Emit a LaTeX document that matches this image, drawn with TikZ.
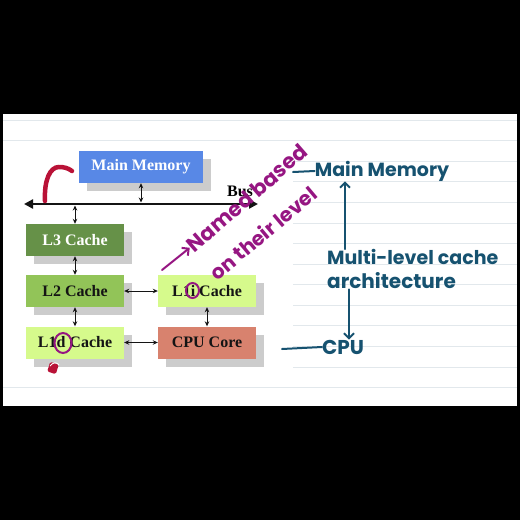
\documentclass[tikz,border=0pt]{standalone}
\usepackage{fontspec}
\setmainfont{Liberation Serif}
\newfontfamily\handfont{Poppins}
\usepackage{tikz}
\usetikzlibrary{arrows.meta,calc,shadows}
\usepackage{xcolor}
\definecolor{memblue}{RGB}{88,136,230}
\definecolor{lthree}{RGB}{102,145,72}
\definecolor{ltwo}{RGB}{146,196,88}
\definecolor{lone}{RGB}{214,250,140}
\definecolor{corered}{RGB}{216,130,110}
\definecolor{shade}{RGB}{204,204,204}
\definecolor{ruleline}{RGB}{226,232,236}
\definecolor{ink}{RGB}{20,20,20}
\definecolor{penblue}{RGB}{22,82,112}
\definecolor{penpurple}{RGB}{150,22,130}
\definecolor{penred}{RGB}{185,18,55}
\newcommand{\paperrule}[2]{% x-start y
  \draw[ruleline,line width=0.8pt] (#1,#2) -- (517,#2);
}
\tikzset{
  cachebox/.style={minimum width=98pt,minimum height=32pt,inner sep=0pt,
    font=\bfseries\fontsize{16}{18}\selectfont,text=ink,
    drop shadow={shadow xshift=8pt,shadow yshift=-8pt,fill=shade,opacity=1}},
  link/.style={ink,line width=0.8pt,{Stealth[length=5pt,width=4.5pt]}-{Stealth[length=5pt,width=4.5pt]}},
  hand/.style={font=\handfont\bfseries\fontsize{#1}{#1}\selectfont,inner sep=0pt},
  penline/.style={line width=2pt,line cap=round}
}

\begin{document}
\begin{tikzpicture}[x=1pt,y=-1pt]
  \fill[black] (0,0) rectangle (520,520);
  \fill[white] (3,114) rectangle (517,406);
  \foreach \k in {0,...,13}{
    \pgfmathsetmacro{\ry}{120+20.58*\k}
    \ifnum\k<2 \paperrule{3}{\ry}\else\ifnum\k=13 \paperrule{3}{\ry}\else\paperrule{293}{\ry}\fi\fi
  }

  % slide diagram
  \node[cachebox,fill=memblue,text=white,minimum width=124pt] (mem) at (141,167){Main Memory};
  \node[cachebox,fill=lthree,text=white] (l3) at (75,240){L3 Cache};
  \node[cachebox,fill=ltwo] (l2) at (75,291){L2 Cache};
  \node[cachebox,fill=lone] (l1d) at (75,342.5){L1d Cache};
  \node[cachebox,fill=lone] (l1i) at (207,291){L1i Cache};
  \node[cachebox,fill=corered] (cpu) at (207,342.5){CPU Core};
  \coordinate (busL) at (24,204);
  \coordinate (busR) at (258,204);
  \node[font=\bfseries\fontsize{16}{18}\selectfont,inner sep=0pt] (buslbl) at (240,191){Bus};
  \draw[ink,line width=2.6pt,{Triangle[length=9pt,width=9pt]}-{Triangle[length=9pt,width=9pt]}] (busL) -- (busR);
  \draw[link] (mem.south) -- ([yshift=1.5pt]mem.south |- busL);
  \draw[link] ([yshift=-1.5pt]l3.north |- busL) -- (l3.north);
  \draw[link] (l3) -- (l2);
  \draw[link] (l2) -- (l1d);
  \draw[link] (l2) -- (l1i);
  \draw[link] (l1d) -- (cpu);
  \draw[link] (l1i) -- (cpu);

  % purple notes
  \node[hand=21,text=penpurple,rotate=41] (named) at (247,198){Named based};
  \node[hand=20,text=penpurple,rotate=40] (level) at (263,233){on their level};
  \coordinate (tail) at (162,270);
  \draw[penpurple,penline,-{Straight Barb[length=5pt]}] (tail) -- (named.west);
  \draw[penpurple,penline] (192.5,290.5) ellipse [x radius=6.5pt,y radius=7.5pt];
  \draw[penpurple,penline] (63,343) ellipse [x radius=8.5pt,y radius=10pt];

  % red marks
  \draw[penred,line width=4.5pt,line cap=round] (45,201) .. controls (44,180) and (50,167) .. (59,167) .. controls (64,167) and (68,168) .. (72,171);
  \fill[penred,rounded corners=1.5pt,rotate around={-18:(53,368)}] (48.5,363) rectangle (57.5,373);
  \draw[white,line width=0.9pt] (50,366) .. controls (53,362) and (57,362) .. (59,365);

  % blue notes
  \node[hand=19,text=penblue] (blmem) at (382,171){Main Memory};
  \node[hand=19,text=penblue,anchor=west] (multi) at (327,257){Multi-level cache};
  \node[hand=20,text=penblue,anchor=west] (arch) at (327,281){architecture};
  \node[hand=20,text=penblue,anchor=west] (blcpu) at (322,347){CPU};
  \coordinate (upx) at (345,0);
  \coordinate (downx) at (349,0);
  \coordinate (dash) at (282,349);
  \coordinate (tick) at (293,172);
  \draw[penblue,penline,-{Straight Barb[length=5pt]}] (upx |- multi.north) -- (upx |- blmem.south);
  \draw[penblue,penline,-{Straight Barb[length=5pt]}] (downx |- arch.south) -- (downx |- blcpu.north);
  \draw[penblue,penline] (dash) -- (blcpu.west);
  \draw[penblue,penline] (tick) -- (blmem.west);
\end{tikzpicture}
\end{document}
